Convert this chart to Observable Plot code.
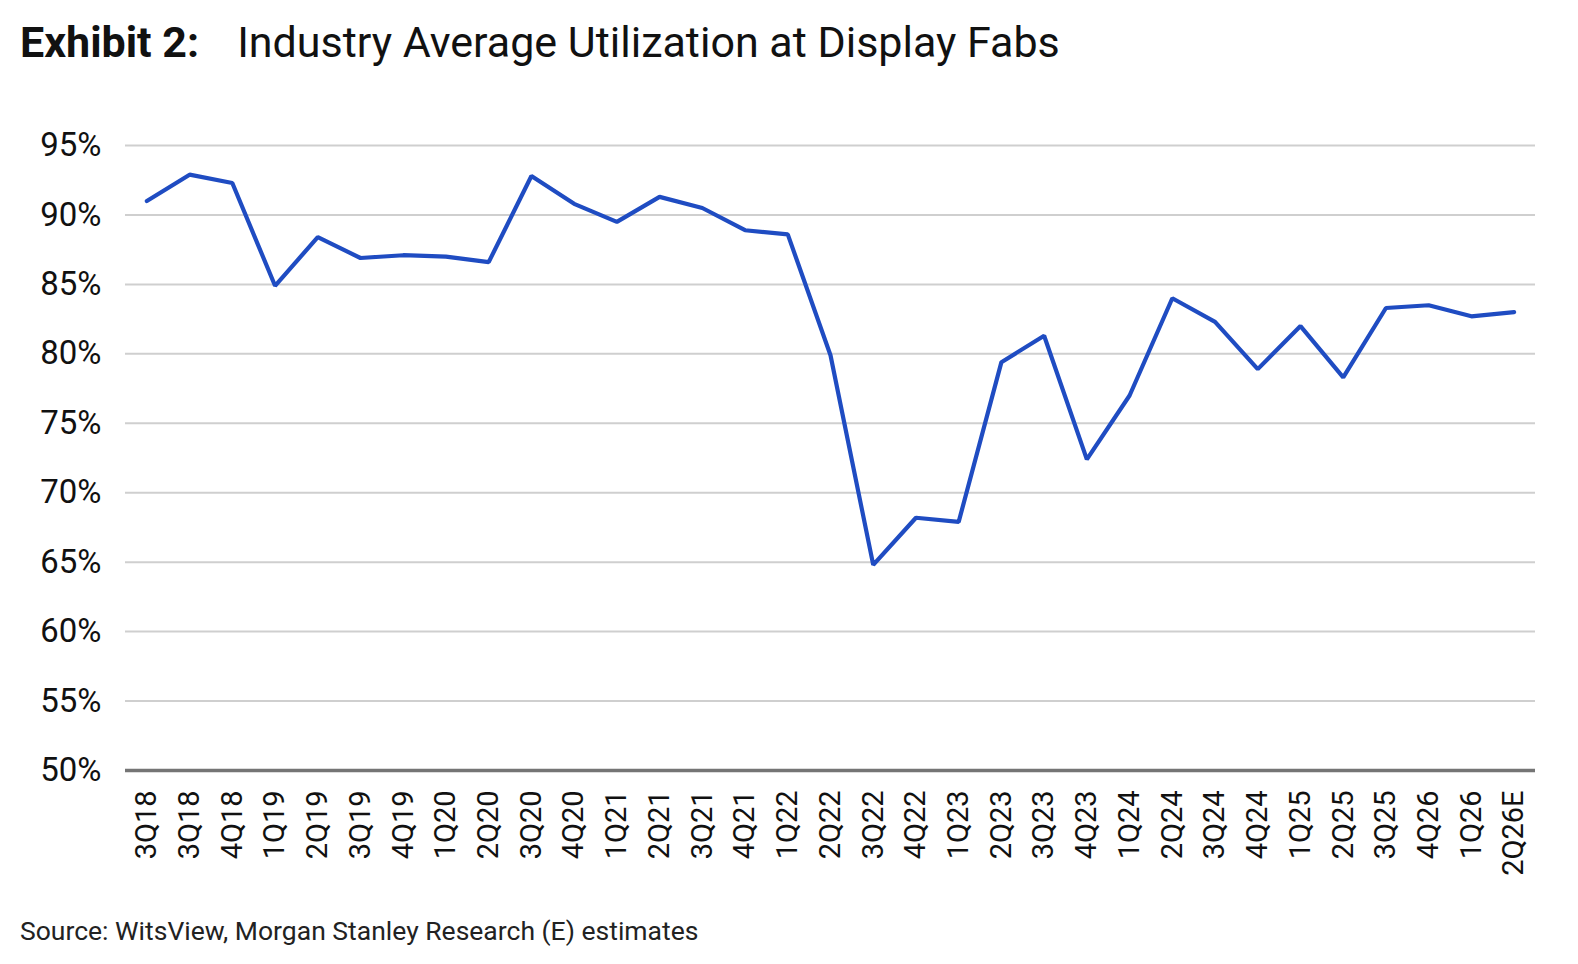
<!DOCTYPE html>
<html>
<head>
<meta charset="utf-8">
<script src="https://cdn.jsdelivr.net/npm/d3@7"></script>
<script src="https://cdn.jsdelivr.net/npm/@observablehq/plot@0.6"></script>
<style>
  html, body { margin: 0; padding: 0; background: #fff; overflow: hidden; }
  body { width: 1578px; height: 964px; position: relative; font-family: Roboto, "Noto Sans", sans-serif; color: #111; }
  #title { position: absolute; left: 20px; top: 16px; font-size: 43px; line-height: 52px; white-space: nowrap; }
  #title b { font-weight: 700; margin-right: 38px; }
  #chart { position: absolute; left: 0; top: 90px; width: 1578px; }
  #chart svg { max-width: none !important; }
  #caption { position: absolute; left: 20px; top: 914px; font-size: 26.5px; line-height: 34px; color: #222; white-space: nowrap; }
</style>
</head>
<body>
<div id="title"><b>Exhibit 2:</b>Industry Average Utilization at Display Fabs</div>
<div id="chart"></div>
<div id="caption">Source: WitsView, Morgan Stanley Research (E) estimates</div>
<script>
const quarters = ["3Q18","3Q18","4Q18","1Q19","2Q19","3Q19","4Q19","1Q20","2Q20","3Q20","4Q20","1Q21","2Q21","3Q21","4Q21","1Q22","2Q22","3Q22","4Q22","1Q23","2Q23","3Q23","4Q23","1Q24","2Q24","3Q24","4Q24","1Q25","2Q25","3Q25","4Q26","1Q26","2Q26E"];
const utilization = [91.0,92.9,92.3,84.9,88.4,86.9,87.1,87.0,86.6,92.8,90.8,89.5,91.3,90.5,88.9,88.6,79.9,64.8,68.2,67.9,79.4,81.3,72.4,77.0,84.0,82.3,78.9,82.0,78.3,83.3,83.5,82.7,83.0];
const yTicks = [50,55,60,65,70,75,80,85,90,95];

const data = quarters.map((q, i) => ({i, q, v: utilization[i]}));
const idx = d3.range(quarters.length);

const chart = Plot.plot({
  width: 1578,
  height: 800,
  marginTop: 55,
  marginBottom: 120,
  marginLeft: 125,
  marginRight: 43,
  style: {fontFamily: "Roboto, 'Noto Sans', sans-serif", color: "#111", background: "transparent"},
  x: {type: "linear", domain: [-0.5, quarters.length - 0.5]},
  y: {domain: [50, 95]},
  marks: [
    Plot.ruleY(yTicks.filter(d => d > 50), {stroke: "#cfcfcf", strokeWidth: 2}),
    Plot.axisY({ticks: yTicks, tickSize: 0, tickPadding: 24, tickFormat: d => d + "%", fontSize: 33, label: null}),
    Plot.axisX({ticks: idx, tickFormat: i => quarters[i], tickSize: 0, tickPadding: 20, tickRotate: -90, fontSize: 29, label: null}),
    Plot.line(data, {x: "i", y: "v", stroke: "#1f4cc2", strokeWidth: 4.2, strokeLinejoin: "miter"}),
    Plot.ruleY([50], {stroke: "#757575", strokeWidth: 3.5})
  ]
});
document.getElementById("chart").appendChild(chart);
</script>
</body>
</html>
